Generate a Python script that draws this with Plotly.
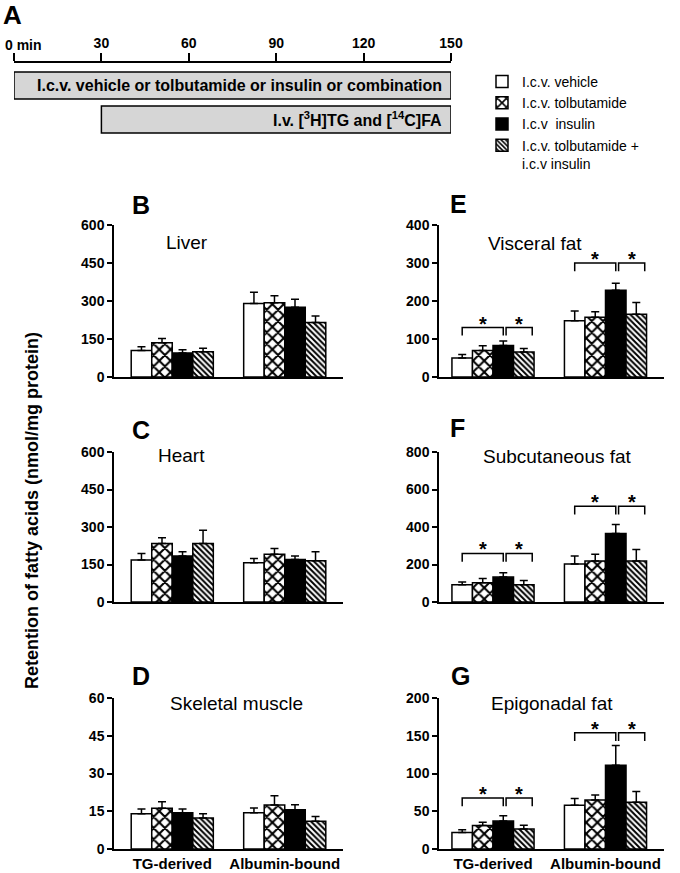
import plotly.graph_objects as go

W, H = 680, 873

# ---------------- data ----------------
treatments = ["I.c.v. vehicle", "I.c.v. tolbutamide", "I.c.v  insulin",
              "I.c.v. tolbutamide +<br>i.c.v insulin"]
groups = ["TG-derived", "Albumin-bound"]

liver_tg = [105, 135, 95, 100]
liver_tg_err = [14, 17, 13, 13]
liver_alb = [290, 293, 275, 215]
liver_alb_err = [45, 28, 32, 26]

heart_tg = [168, 234, 184, 234]
heart_tg_err = [26, 23, 17, 53]
heart_alb = [157, 191, 170, 165]
heart_alb_err = [17, 23, 14, 36]

muscle_tg = [14.0, 16.2, 14.4, 12.3]
muscle_tg_err = [1.9, 2.6, 1.5, 1.7]
muscle_alb = [14.4, 17.5, 15.6, 11.0]
muscle_alb_err = [1.9, 3.7, 2.0, 1.9]

visceral_tg = [50, 70, 83, 66]
visceral_tg_err = [9, 12, 12, 9]
visceral_alb = [148, 157, 228, 165]
visceral_alb_err = [26, 15, 19, 31]

subcut_tg = [92, 103, 133, 92]
subcut_tg_err = [15, 22, 23, 22]
subcut_alb = [202, 218, 365, 218]
subcut_alb_err = [43, 37, 48, 62]

epi_tg = [22, 31, 37, 26.5]
epi_tg_err = [3.5, 4.5, 7, 4.8]
epi_alb = [58, 65, 111, 62]
epi_alb_err = [9, 6.5, 26, 14]

# significance brackets: (top, leg bottom) per group
visceral_brackets = [(130, 109), (300, 278)]
subcut_brackets = [(259, 215), (511, 466)]
epi_brackets = [(67.5, 56.5), (154, 143)]

# timeline (minutes)
timeline_ticks = [0, 30, 60, 90, 120, 150]
timeline_start = [0, 30]
timeline_end = [150, 150]
timeline_text = ["I.c.v. vehicle or tolbutamide or insulin or combination",
                 "I.v. [<sup>3</sup>H]TG and [<sup>14</sup>C]FA"]

# ---------------- layout helpers ----------------
def fx(p):
    return p / W

def fy(p):
    return 1 - p / H

FONT = "Liberation Sans, Arial, sans-serif"
BARGAP = 0.27
BW = (1 - BARGAP) / 4

patterns = [
    dict(color="white", pattern=None),
    dict(color="white", pattern=dict(shape="x", fgcolor="black", bgcolor="white", size=8, solidity=0.45)),
    dict(color="black", pattern=None),
    dict(color="white", pattern=dict(shape="\\", fgcolor="black", bgcolor="white", size=4, solidity=0.5)),
]

panels = [
    ("", "B", "Liver", liver_tg, liver_tg_err, liver_alb, liver_alb_err, 600, 150,
     (114, 343), (377, 225), None, (141, 205), (187, 242)),
    ("2", "C", "Heart", heart_tg, heart_tg_err, heart_alb, heart_alb_err, 600, 150,
     (114, 343), (602, 452), None, (141, 430), (181, 455)),
    ("3", "D", "Skeletal muscle", muscle_tg, muscle_tg_err, muscle_alb, muscle_alb_err, 60, 15,
     (114, 343), (849, 698), None, (141, 676), (236, 703)),
    ("4", "E", "Visceral fat", visceral_tg, visceral_tg_err, visceral_alb, visceral_alb_err, 400, 100,
     (439, 664), (377, 225), visceral_brackets, (458, 204), (535, 243)),
    ("5", "F", "Subcutaneous fat", subcut_tg, subcut_tg_err, subcut_alb, subcut_alb_err, 800, 200,
     (439, 664), (602, 452), subcut_brackets, (457, 428), (557, 456)),
    ("6", "G", "Epigonadal fat", epi_tg, epi_tg_err, epi_alb, epi_alb_err, 200, 50,
     (439, 664), (849, 698), epi_brackets, (460, 676), (552, 703)),
]

fig = go.Figure()
annotations = []
layout = dict(
    template="none",
    width=W, height=H, autosize=False,
    margin=dict(l=0, r=0, t=0, b=0, pad=0),
    paper_bgcolor="white", plot_bgcolor="white",
    barmode="group", bargap=BARGAP, bargroupgap=0,
    font=dict(family=FONT, color="black"),
    showlegend=True,
)

for pi, (k, letter, title, tg, tge, alb, albe, ymax, dtick, xd, yd, brk, lpos, tpos) in enumerate(panels):
    xa, ya = "x" + k, "y" + k
    left = xd[0] == 114
    x0 = -0.518 if left else -0.48
    for i in range(4):
        m = dict(color=patterns[i]["color"], line=dict(color="black", width=1.5))
        if patterns[i]["pattern"]:
            m["pattern"] = patterns[i]["pattern"]
        fig.add_trace(go.Bar(
            x=[0, 1], y=[tg[i], alb[i]], name=treatments[i],
            marker=m, xaxis=xa, yaxis=ya, offsetgroup=str(i),
            showlegend=(pi == 0),
            error_y=dict(type="data", array=[tge[i], albe[i]], arrayminus=[0, 0],
                         symmetric=False, color="black", thickness=1.5, width=4),
        ))
    if brk:
        for g, (top, leg) in enumerate(brk):
            vc = g + (0 - 1.5) * BW
            ic = g + (2 - 1.5) * BW
            cc = g + (3 - 1.5) * BW
            fig.add_trace(go.Scatter(x=[vc, vc, ic, ic], y=[leg, top, top, leg], mode="lines",
                                     line=dict(color="black", width=1.5), xaxis=xa, yaxis=ya,
                                     showlegend=False, hoverinfo="skip"))
            fig.add_trace(go.Scatter(x=[ic + 0.025, ic + 0.025, cc + 0.075, cc + 0.075],
                                     y=[leg, top, top, leg], mode="lines",
                                     line=dict(color="black", width=1.5), xaxis=xa, yaxis=ya,
                                     showlegend=False, hoverinfo="skip"))
            for sx in [(vc + ic) / 2, (ic + 0.025 + cc + 0.075) / 2]:
                annotations.append(dict(x=sx, y=top, xref=xa, yref=ya, text="*", showarrow=False,
                                        yanchor="middle", yshift=4,
                                        font=dict(size=20, family=FONT, weight="bold")))
    bottom = k in ("3", "6")
    layout["xaxis" + k] = dict(
        domain=[fx(xd[0]), fx(xd[1])], anchor=ya, range=[x0, x0 + 2.036 if left else 1.52],
        showline=True, linecolor="black", linewidth=1.5, ticks="", showgrid=False, zeroline=False,
        tickvals=[0, 1], ticktext=groups, showticklabels=bottom, automargin=False,
        tickfont=dict(size=15, family=FONT, weight="bold"), fixedrange=True,
    )
    layout["yaxis" + k] = dict(
        domain=[fy(yd[0]), fy(yd[1])], anchor=xa, range=[0, ymax],
        tickvals=[dtick * j for j in range(5)], automargin=False,
        showline=True, linecolor="black", linewidth=1.5, ticks="outside", ticklen=5,
        tickwidth=1.5, tickcolor="black", showgrid=False, zeroline=False,
        tickfont=dict(size=14, family=FONT, weight="bold"), fixedrange=True,
    )
    annotations.append(dict(x=fx(lpos[0]), y=fy(lpos[1]), xref="paper", yref="paper", text=letter,
                            showarrow=False, xanchor="center", yanchor="middle",
                            font=dict(size=25, family=FONT, weight="bold")))
    annotations.append(dict(x=fx(tpos[0]), y=fy(tpos[1]), xref="paper", yref="paper", text=title,
                            showarrow=False, xanchor="center", yanchor="middle",
                            font=dict(size=19, family=FONT)))

# ---------------- timeline (panel A) ----------------
fig.add_trace(go.Bar(
    y=[0, 1], x=[e - s for s, e in zip(timeline_start, timeline_end)], base=timeline_start,
    orientation="h", width=0.79, marker=dict(color="#d6d6d6", line=dict(color="black", width=1.5)),
    xaxis="x7", yaxis="y7", showlegend=False, hoverinfo="skip",
))
layout["xaxis7"] = dict(
    domain=[fx(14), fx(451)], anchor="y7", side="top", range=[0, 150], automargin=False,
    tickvals=timeline_ticks, ticktext=[""] + [str(t) for t in timeline_ticks[1:]],
    showline=True, linecolor="black", linewidth=1.5, ticks="outside", ticklen=8, tickwidth=1.5,
    tickcolor="black", showgrid=False, zeroline=False,
    tickfont=dict(size=14, family=FONT, weight="bold"), fixedrange=True,
)
layout["yaxis7"] = dict(domain=[fy(137), fy(63)], anchor="x7", range=[1.515, -0.662],
                        visible=False, fixedrange=True, automargin=False)
for i, t in enumerate(timeline_text):
    annotations.append(dict(x=timeline_end[i], y=i, xref="x7", yref="y7", text=t, showarrow=False,
                            xanchor="right", yanchor="middle", xshift=-7,
                            font=dict(size=16, family=FONT, weight="bold")))
annotations.append(dict(x=fx(3), y=fy(45), xref="paper", yref="paper", text="0 min", showarrow=False,
                        xanchor="left", yanchor="middle", font=dict(size=14, family=FONT, weight="bold")))
annotations.append(dict(x=fx(12), y=fy(15), xref="paper", yref="paper", text="A", showarrow=False,
                        xanchor="center", yanchor="middle", font=dict(size=26, family=FONT, weight="bold")))
annotations.append(dict(x=fx(32), y=fy(511), xref="paper", yref="paper",
                        text="Retention of fatty acids (nmol/mg protein)", showarrow=False, textangle=-90,
                        xanchor="center", yanchor="middle", font=dict(size=18, family=FONT, weight="bold")))

layout["annotations"] = annotations
layout["legend"] = dict(x=fx(482), y=fy(66), xanchor="left", yanchor="top", valign="top",
                        font=dict(size=14, family=FONT), bgcolor="rgba(0,0,0,0)", borderwidth=0,
                        tracegroupgap=0, itemclick=False, itemdoubleclick=False)
fig.update_layout(**layout)
fig.write_html("out.html", config={"displayModeBar": False},
               post_script="document.body.style.margin='0';")
